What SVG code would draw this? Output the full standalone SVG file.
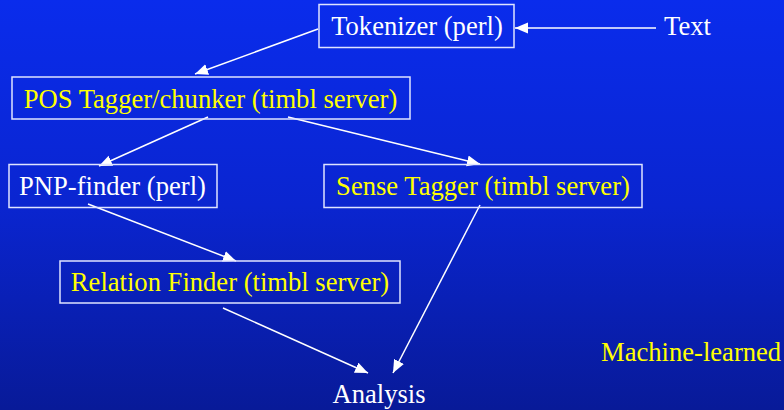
<svg xmlns="http://www.w3.org/2000/svg" width="784" height="410" viewBox="0 0 784 410">
<defs>
<linearGradient id="bg" x1="0" y1="0" x2="0" y2="1">
<stop offset="0" stop-color="#0a2cec"/>
<stop offset="0.5" stop-color="#0a25d0"/>
<stop offset="1" stop-color="#081a98"/>
</linearGradient>
<marker id="ah" markerUnits="userSpaceOnUse" markerWidth="14" markerHeight="12" refX="13" refY="5.5" orient="auto">
<path d="M0,0 L13,5.5 L0,11 Z" fill="#ffffff"/>
</marker>
<style>
.box{fill:none;stroke:#dfe4ff;stroke-width:1.5}
.t{font-family:"Liberation Serif","Times New Roman",serif;font-size:26.6px}
.w{fill:#ffffff}
.y{fill:#ffff00}
.c{stroke:#ffffff;stroke-width:1.5;fill:none;marker-end:url(#ah)}
</style>
</defs>
<rect width="784" height="410" fill="url(#bg)"/>
<g id="connectors">
<line class="c" x1="656" y1="28" x2="515" y2="28"/>
<line class="c" x1="318" y1="29" x2="195" y2="74"/>
<line class="c" x1="208" y1="117" x2="99" y2="166"/>
<line class="c" x1="288" y1="117" x2="480" y2="164"/>
<line class="c" x1="88" y1="204" x2="236" y2="261"/>
<line class="c" x1="480" y1="205" x2="393" y2="373"/>
<line class="c" x1="223" y1="308" x2="368" y2="373"/>
</g>
<g id="tokenizer">
<rect class="box" x="319" y="4.5" width="195" height="43"/>
<text class="t w" x="417" y="35" text-anchor="middle">Tokenizer (perl)</text>
</g>
<g id="text">
<text class="t w" x="664" y="35">Text</text>
</g>
<g id="pos">
<rect class="box" x="12" y="77" width="398" height="42"/>
<text class="t y" x="210.5" y="108" text-anchor="middle">POS Tagger/chunker (timbl server)</text>
</g>
<g id="pnp">
<rect class="box" x="9" y="164.5" width="208" height="43"/>
<text class="t w" x="112.5" y="195" text-anchor="middle">PNP-finder (perl)</text>
</g>
<g id="sense">
<rect class="box" x="324" y="164.5" width="318" height="43"/>
<text class="t y" x="483" y="195" text-anchor="middle">Sense Tagger (timbl server)</text>
</g>
<g id="relation">
<rect class="box" x="60" y="261" width="340" height="42"/>
<text class="t y" x="230" y="291" text-anchor="middle">Relation Finder (timbl server)</text>
</g>
<g id="analysis">
<text class="t w" x="379" y="403" text-anchor="middle">Analysis</text>
</g>
<g id="machine">
<text class="t y" x="601" y="361">Machine-learned</text>
</g>
</svg>
